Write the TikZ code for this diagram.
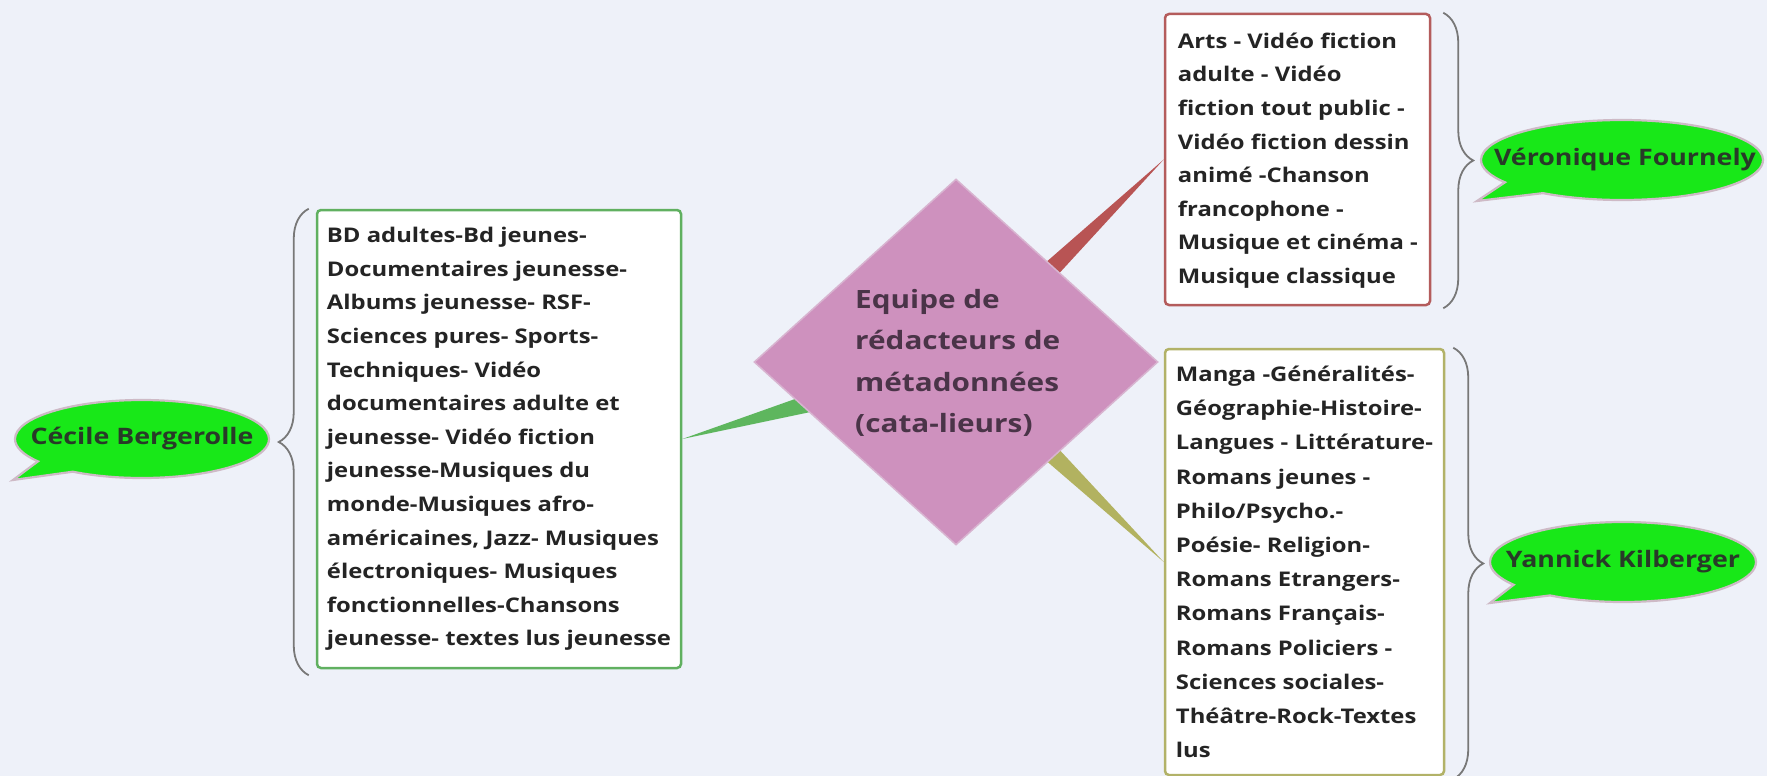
\documentclass[tikz,border=0pt]{standalone}
\usepackage{fontspec}
\setmainfont{Open Sans}[FakeStretch=1.18]
\usetikzlibrary{shapes.geometric,shapes.callouts,decorations.pathreplacing,calc}
\definecolor{bgc}{RGB}{238,241,249}
\definecolor{hubfill}{RGB}{206,145,190}
\definecolor{hubdraw}{RGB}{216,180,208}
\definecolor{hubtext}{RGB}{74,52,72}
\definecolor{bubfill}{RGB}{24,232,24}
\definecolor{bubdraw}{RGB}{206,186,198}
\definecolor{bubtext}{RGB}{40,58,40}
\definecolor{gline}{RGB}{96,176,96}
\definecolor{rline}{RGB}{180,92,92}
\definecolor{oline}{RGB}{178,178,104}
\definecolor{gwed}{RGB}{94,182,94}
\definecolor{rwed}{RGB}{184,84,84}
\definecolor{owed}{RGB}{178,178,96}
\definecolor{boxtext}{RGB}{36,36,36}
\definecolor{bracec}{RGB}{120,120,120}
\pgfdeclarelayer{back}
\pgfdeclarelayer{wedges}
\pgfsetlayers{back,wedges,main}
\begin{document}
\begin{tikzpicture}[x=1pt,y=-1pt,
  topicbox/.style={draw, line width=2.5pt, rounded corners=4pt, fill=white, inner sep=0pt},
  boxtxt/.style={anchor=west, align=left, inner sep=0pt, text=boxtext, font=\fontsize{20.2}{33.6}\selectfont\bfseries},
  bubble/.style={ellipse callout, fill=bubfill, draw=bubdraw, line width=2.2pt, inner sep=0pt, callout pointer arc=22},
  bubtxt/.style={inner sep=0pt, text=bubtext, font=\fontsize{22.7}{26}\selectfont\bfseries},
  bracedec/.style={draw=bracec, line width=1.8pt, decorate, decoration={brace, amplitude=30pt}},
]
\begin{pgfonlayer}{back}
\fill[bgc] (0,0) rectangle (1767,776);
\end{pgfonlayer}
\useasboundingbox (0,0) rectangle (1767,776);

% central diamond
\node[diamond, fill=hubfill, draw=hubdraw, line width=1.5pt, minimum width=404pt, minimum height=366pt, inner sep=0pt] (hub) at (956,362) {};
\node[anchor=west, align=left, inner sep=0pt, font=\fontsize{25.2}{41.3}\selectfont\bfseries, text=hubtext] (hubt) at (855,363) {Equipe de\\rédacteurs de\\métadonnées\\(cata-lieurs)};

% topic boxes
\node[topicbox, draw=gline, minimum width=364pt, minimum height=458pt] (gbox) at (499,439) {};
\node[boxtxt] (gtxt) at ($(gbox.west)+(11,0)$) {BD adultes-Bd jeunes-\\Documentaires jeunesse-\\Albums jeunesse- RSF-\\Sciences pures- Sports-\\Techniques- Vidéo\\documentaires adulte et\\jeunesse- Vidéo fiction\\jeunesse-Musiques du\\monde-Musiques afro-\\américaines, Jazz- Musiques\\électroniques- Musiques\\fonctionnelles-Chansons\\jeunesse- textes lus jeunesse};

\node[topicbox, draw=rline, minimum width=265pt, minimum height=291pt] (rbox) at (1297.5,159.5) {};
\node[boxtxt] (rtxt) at ($(rbox.west)+(14,1)$) {Arts - Vidéo fiction\\adulte - Vidéo\\fiction tout public -\\Vidéo fiction dessin\\animé -Chanson\\francophone -\\Musique et cinéma -\\Musique classique};

\node[topicbox, draw=oline, minimum width=279pt, minimum height=426pt] (obox) at (1304.5,562) {};
\node[boxtxt, font=\fontsize{20.2}{34.2}\selectfont\bfseries] (otxt) at ($(obox.west)+(12,0)$) {Manga -Généralités-\\Géographie-Histoire-\\Langues - Littérature-\\Romans jeunes -\\Philo/Psycho.-\\Poésie- Religion-\\Romans Etrangers-\\Romans Français-\\Romans Policiers -\\Sciences sociales-\\Théâtre-Rock-Textes\\lus};

% speech bubbles
\coordinate (ctail) at (13,480);
\coordinate (vtail) at (1477,201);
\coordinate (ytail) at (1490,603);
\node[bubble, minimum width=254pt, minimum height=78pt, callout absolute pointer={(ctail)}] (cecile) at (142,439) {};
\node[bubtxt] (cecilet) at (cecile.center) {Cécile Bergerolle};
\node[bubble, minimum width=282pt, minimum height=80pt, callout absolute pointer={(vtail)}] (veronique) at (1622,160) {};
\node[bubtxt] (veroniquet) at ($(veronique.center)+(3,0)$) {Véronique Fournely};
\node[bubble, minimum width=266pt, minimum height=80pt, callout absolute pointer={(ytail)}] (yannick) at (1623,562) {};
\node[bubtxt] (yannickt) at (yannick.center) {Yannick Kilberger};

% tapered connectors
\begin{pgfonlayer}{wedges}
\fill[gwed] ($(hub.center)!19pt!90:(gbox.east)$) -- (gbox.east) -- ($(hub.center)!19pt!-90:(gbox.east)$) -- cycle;
\fill[rwed] ($(hub.center)!16pt!90:(rbox.west)$) -- (rbox.west) -- ($(hub.center)!16pt!-90:(rbox.west)$) -- cycle;
\fill[owed] ($(hub.center)!16pt!90:(obox.west)$) -- (obox.west) -- ($(hub.center)!16pt!-90:(obox.west)$) -- cycle;
\end{pgfonlayer}

% braces
\draw[bracedec] ($(gbox.south west)+(-7,6)$) -- ($(gbox.north west)+(-7,0)$);
\draw[bracedec] ($(rbox.north east)+(12,0)$) -- ($(rbox.south east)+(12,2)$);
\draw[bracedec] ($(obox.north east)+(8,0)$) -- ($(obox.south east)+(8,3)$);
\end{tikzpicture}
\end{document}
